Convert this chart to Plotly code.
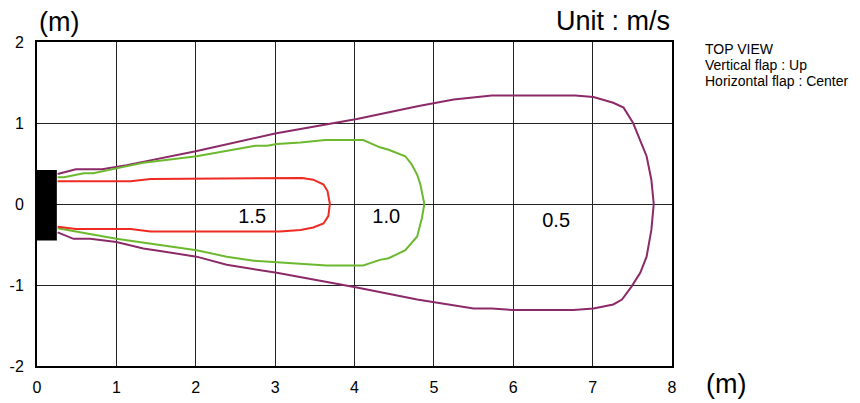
import plotly.graph_objects as go

# air velocity contours, top view (x: distance from unit, y: lateral offset), m
x_05 = [0.26, 0.49, 0.82, 1.13, 2.0, 3.0, 4.03, 4.81, 5.25, 5.73, 6.78, 7.01, 7.26, 7.39, 7.51, 7.68, 7.74, 7.77,
        7.74, 7.68, 7.6, 7.49, 7.37, 7.26, 7.01, 6.76, 6.0, 5.73, 5.5, 4.99, 4.79, 4.03, 3.02, 2.39, 2.01,
        1.55, 1.34, 1.0, 0.67, 0.46, 0.26]
y_05 = [0.37, 0.43, 0.43, 0.48, 0.65, 0.87, 1.05, 1.21, 1.29, 1.34, 1.34, 1.32, 1.25, 1.19, 1.0, 0.59, 0.30, 0.0,
        -0.32, -0.65, -0.85, -1.02, -1.18, -1.24, -1.29, -1.31, -1.31, -1.29, -1.29, -1.21, -1.18, -1.03, -0.85,
        -0.75, -0.65, -0.58, -0.55, -0.47, -0.43, -0.43, -0.35]

x_10 = [0.26, 0.34, 0.59, 0.71, 1.0, 1.34, 2.01, 2.75, 2.9, 3.02, 3.32, 3.63, 4.11, 4.32, 4.43, 4.64, 4.72, 4.79,
        4.83, 4.88, 4.85, 4.79, 4.64, 4.43, 4.32, 4.11, 3.65, 3.32, 3.02, 2.73, 2.39, 2.01, 1.0, 0.26]
y_10 = [0.33, 0.33, 0.38, 0.38, 0.44, 0.51, 0.59, 0.72, 0.72, 0.74, 0.76, 0.79, 0.79, 0.70, 0.67, 0.59, 0.49, 0.36,
        0.24, 0.0, -0.17, -0.40, -0.57, -0.67, -0.69, -0.76, -0.76, -0.74, -0.72, -0.70, -0.65, -0.57, -0.43, -0.30]

x_15 = [0.26, 1.18, 1.43, 3.06, 3.34, 3.48, 3.61, 3.66, 3.69, 3.67, 3.61, 3.48, 3.32, 3.06, 1.43, 1.18, 0.49, 0.26]
y_15 = [0.28, 0.28, 0.31, 0.32, 0.32, 0.30, 0.24, 0.16, 0.0, -0.15, -0.24, -0.29, -0.32, -0.34, -0.34, -0.31,
        -0.31, -0.28]

labels = ["1.5", "1.0", "0.5"]
label_x = [2.71, 4.40, 6.54]
label_y = [-0.17, -0.17, -0.22]

x_ticks = [0, 1, 2, 3, 4, 5, 6, 7, 8]
y_ticks = [-2, -1, 0, 1, 2]
y_tick_text = ["-2", "-1", "0", "1", "2"]

# indoor unit outline (x0, x1, y0, y1)
unit_box = [0.0, 0.25, -0.45, 0.42]

info_text = ["TOP VIEW", "Vertical flap : Up", "Horizontal flap : Center"]

fig = go.Figure()

fig.add_trace(go.Scatter(x=x_05, y=y_05, mode="lines", line=dict(color="#8C2A68", width=2)))
fig.add_trace(go.Scatter(x=x_10, y=y_10, mode="lines", line=dict(color="#6CB92F", width=2)))
fig.add_trace(go.Scatter(x=x_15, y=y_15, mode="lines", line=dict(color="#EE2A22", width=2)))

fig.add_trace(go.Scatter(
    x=label_x, y=label_y, mode="text", text=labels,
    textfont=dict(family="Liberation Sans, Arial", size=20, color="black"),
))

fig.add_shape(type="rect", xref="x", yref="y",
              x0=unit_box[0], x1=unit_box[1], y0=unit_box[2], y1=unit_box[3],
              fillcolor="black", line=dict(width=0), layer="above")

font = "Liberation Sans, Arial, sans-serif"
big = dict(family=font, size=27, color="black")
fig.add_annotation(xref="paper", yref="paper", x=0.0, y=1.0, yshift=20, xanchor="left", yanchor="middle",
                   text="(m)", showarrow=False, font=big)
fig.add_annotation(xref="paper", yref="paper", x=1.0, y=1.0, yshift=21, xanchor="right", yanchor="middle",
                   text="Unit : m/s", showarrow=False, font=big)
fig.add_annotation(xref="paper", yref="paper", x=1.0, y=0.0, xshift=32, yshift=-18, xanchor="left",
                   yanchor="middle", text="(m)", showarrow=False, font=big)

# side note, one annotation per line to keep the tight line spacing
for i, line in enumerate(info_text):
    fig.add_annotation(xref="paper", yref="paper", x=1.0, y=1.0, xshift=32, yshift=-7 - 15.8 * i,
                       xanchor="left", yanchor="middle", text=line, showarrow=False,
                       borderpad=0, font=dict(family=font, size=14, color="black"))

fig.update_layout(
    width=860, height=403,
    margin=dict(l=37, r=188, t=42, b=37),
    plot_bgcolor="white", paper_bgcolor="white",
    showlegend=False,
    font=dict(family=font, size=16, color="black"),
)
fig.update_xaxes(range=[0, 8], tickvals=x_ticks, showgrid=True, gridcolor="#222222", gridwidth=1,
                 zeroline=False, showline=True, linecolor="black", linewidth=2, mirror=True,
                 ticks="", ticklabelstandoff=6, automargin=False)
fig.update_yaxes(range=[-2, 2], tickvals=y_ticks, ticktext=y_tick_text, showgrid=True, gridcolor="#222222",
                 gridwidth=1, zeroline=False, showline=True, linecolor="black", linewidth=2, mirror=True,
                 ticks="", ticklabelstandoff=8, automargin=False)

# drop the default 8px page margin so the figure fills the window exactly
fig.write_html("out.html", config={"displayModeBar": False},
               post_script="document.body.style.margin = '0';")
